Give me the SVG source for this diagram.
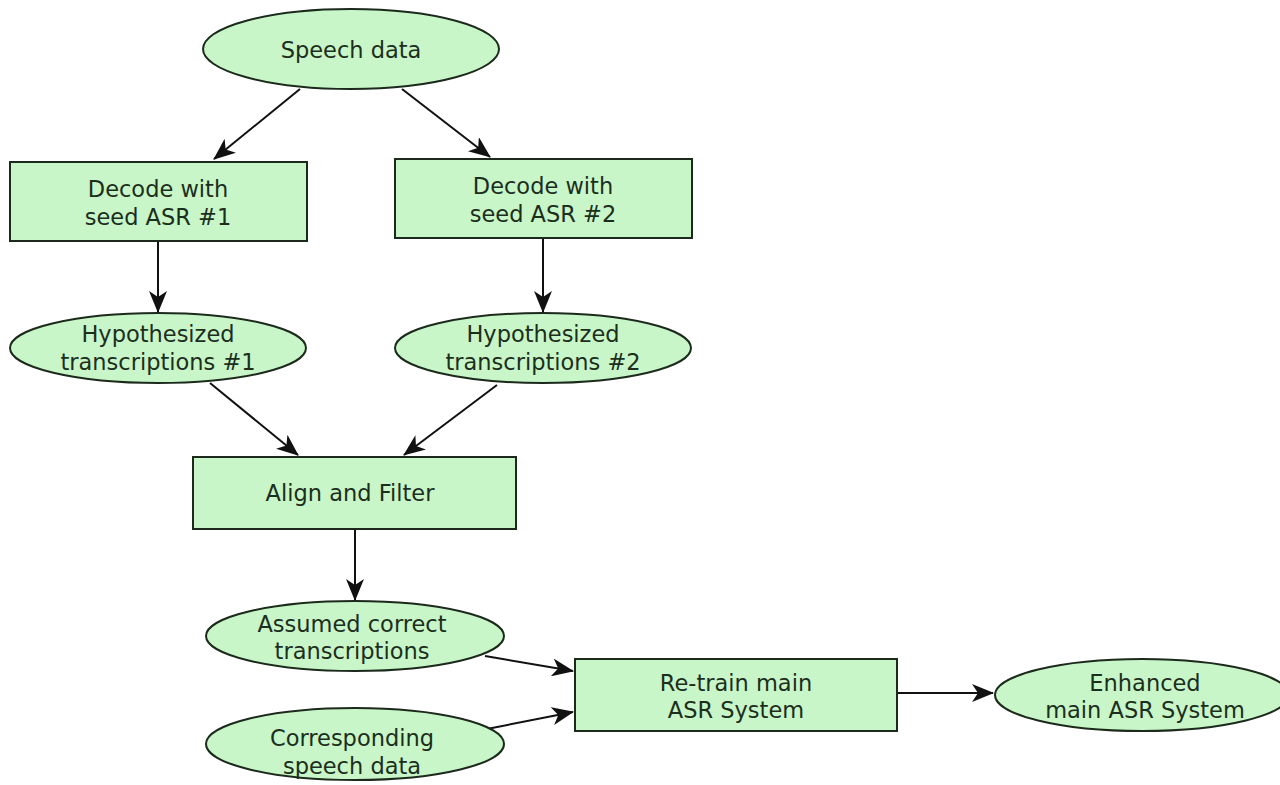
<svg xmlns="http://www.w3.org/2000/svg" width="1280" height="785" viewBox="0 0 1280 785">
<style>
.n{fill:#c8f6c8;stroke:#1c2a1c;stroke-width:2}
.t{font-family:"DejaVu Sans",sans-serif;font-size:22.5px;fill:#1c2e1c;text-anchor:middle}
.e{stroke:#111;stroke-width:2;fill:none;marker-end:url(#ah)}
</style>
<defs>
<marker id="ah" viewBox="0 0 22 18" refX="21" refY="9" markerWidth="22" markerHeight="18" markerUnits="userSpaceOnUse" orient="auto">
<path d="M0,0 L22,9 L0,18 L6,9 Z" fill="#111"/>
</marker>
</defs>
<rect width="1280" height="785" fill="#fff"/>
<g id="connectors">
<line class="e" x1="300" y1="89" x2="214" y2="159"/>
<line class="e" x1="402" y1="89" x2="490" y2="157"/>
<line class="e" x1="158" y1="241" x2="158" y2="312"/>
<line class="e" x1="543" y1="238" x2="543" y2="312"/>
<line class="e" x1="210" y1="383" x2="298" y2="455"/>
<line class="e" x1="497" y1="385" x2="404" y2="455"/>
<line class="e" x1="355" y1="529" x2="355" y2="600"/>
<line class="e" x1="485" y1="656" x2="573" y2="671"/>
<line class="e" x1="487" y1="729" x2="573" y2="712"/>
<line class="e" x1="897" y1="693" x2="993" y2="693"/>
</g>
<g id="speech">
<ellipse class="n" cx="351" cy="49" rx="148" ry="40"/>
<text class="t" x="351" y="58">Speech data</text>
</g>
<g id="decode1">
<rect class="n" x="10" y="162" width="297" height="79"/>
<text class="t" x="158" y="197">Decode with</text>
<text class="t" x="158" y="225">seed ASR #1</text>
</g>
<g id="decode2">
<rect class="n" x="395" y="159" width="297" height="79"/>
<text class="t" x="543" y="194">Decode with</text>
<text class="t" x="543" y="222">seed ASR #2</text>
</g>
<g id="hyp1">
<ellipse class="n" cx="158" cy="348" rx="148" ry="35"/>
<text class="t" x="158" y="342">Hypothesized</text>
<text class="t" x="158" y="370">transcriptions #1</text>
</g>
<g id="hyp2">
<ellipse class="n" cx="543" cy="348" rx="148" ry="35"/>
<text class="t" x="543" y="342">Hypothesized</text>
<text class="t" x="543" y="370">transcriptions #2</text>
</g>
<g id="align">
<rect class="n" x="193" y="457" width="323" height="72"/>
<text class="t" x="350" y="501">Align and Filter</text>
</g>
<g id="assumed">
<ellipse class="n" cx="355" cy="636" rx="149" ry="35"/>
<text class="t" x="352" y="632">Assumed correct</text>
<text class="t" x="352" y="659">transcriptions</text>
</g>
<g id="corresponding">
<ellipse class="n" cx="355" cy="744" rx="149" ry="36"/>
<text class="t" x="352" y="746">Corresponding</text>
<text class="t" x="352" y="774">speech data</text>
</g>
<g id="retrain">
<rect class="n" x="575" y="659" width="322" height="72"/>
<text class="t" x="736" y="691">Re-train main</text>
<text class="t" x="736" y="718">ASR System</text>
</g>
<g id="enhanced">
<ellipse class="n" cx="1142" cy="695" rx="147" ry="36"/>
<text class="t" x="1145" y="691">Enhanced</text>
<text class="t" x="1145" y="718">main ASR System</text>
</g>
</svg>
